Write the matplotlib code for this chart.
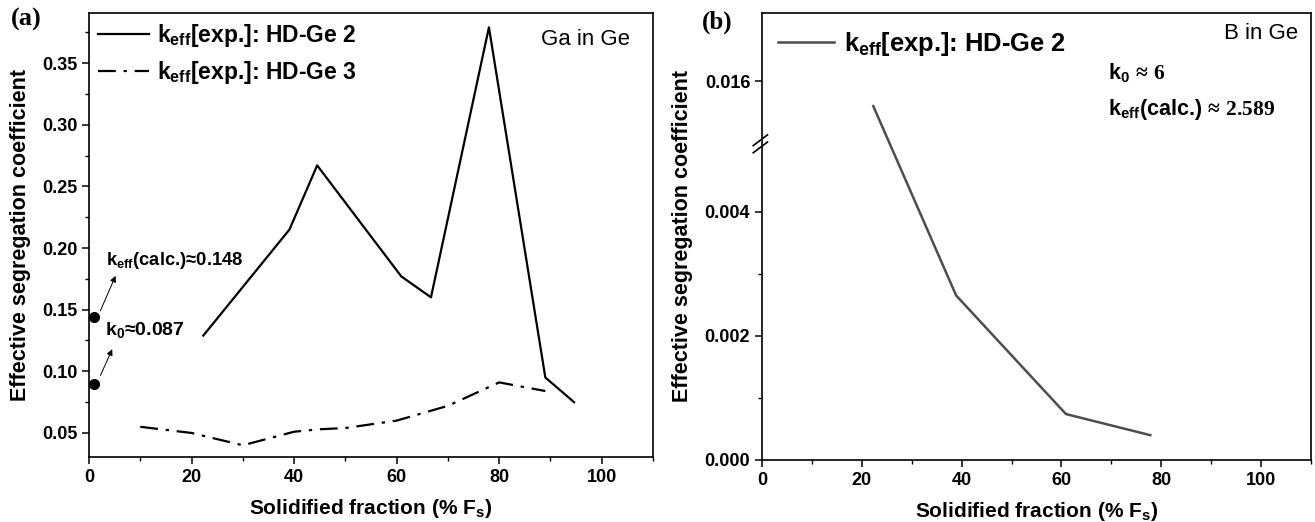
import numpy as np
import matplotlib
matplotlib.use("Agg")
import matplotlib.pyplot as plt
from matplotlib.ticker import MultipleLocator, FixedLocator, FormatStrFormatter

plt.rcParams['font.family'] = ['Liberation Sans', 'DejaVu Sans']
plt.rcParams['font.weight'] = 'bold'
plt.rcParams['mathtext.fontset'] = 'custom'
plt.rcParams['mathtext.rm'] = 'Liberation Sans:bold'
plt.rcParams['mathtext.it'] = 'Liberation Sans:bold'
plt.rcParams['mathtext.bf'] = 'Liberation Sans:bold'
plt.rcParams['mathtext.sf'] = 'Liberation Serif'

# --- data (a): Ga in Ge ---
fs_ge2 = [22.3, 39.1, 44.5, 60.9, 66.7, 78.0, 89.0, 94.6]
k_ge2 = [0.129, 0.215, 0.267, 0.177, 0.160, 0.379, 0.095, 0.075]
fs_ge3 = [10, 20, 30, 40, 45, 50, 60, 70, 80, 89]
k_ge3 = [0.055, 0.050, 0.040, 0.051, 0.053, 0.054, 0.060, 0.072, 0.091, 0.084]
k_calc_a = 0.144
k0_a = 0.090

# --- data (b): B in Ge ---
fs_b = [22.3, 38.9, 60.9, 77.8]
k_b = [0.0156, 0.00265, 0.00074, 0.0004]

# axis break for (b)
brk_lo, brk_hi = 0.0051, 0.0150
shift = brk_hi - brk_lo


def fwd(y):
    y = np.asarray(y, dtype=float)
    return np.where(y <= brk_lo, y, np.where(y >= brk_hi, y - shift, brk_lo))


def inv(t):
    t = np.asarray(t, dtype=float)
    return np.where(t <= brk_lo, t, t + shift)


fig = plt.figure(figsize=(13.15, 5.22), dpi=100)
ax1 = fig.add_axes([89 / 1315, 65 / 522, 564 / 1315, 444 / 522])
ax2 = fig.add_axes([762 / 1315, 62 / 522, 549 / 1315, 447 / 522])

for ax in (ax1, ax2):
    for s in ax.spines.values():
        s.set_linewidth(1.2)
    ax.tick_params(which='major', direction='out', length=5, width=1.1,
                   labelsize=13, top=False, right=False)
    ax.tick_params(which='minor', direction='out', length=3, width=1.0,
                   top=False, right=False)
    ax.set_xlim(0, 110)
    ax.xaxis.set_major_locator(FixedLocator([0, 20, 40, 60, 80, 100]))
    ax.xaxis.set_minor_locator(MultipleLocator(10))
    ax.set_xlabel('Solidified fraction (% F$_{\\mathrm{s}}$)', fontsize=15, fontweight='bold', labelpad=8)
    ax.set_ylabel('Effective segregation coefficient', fontsize=15.5, fontweight='bold', labelpad=8)

# ---- panel (a) ----
ax1.plot(fs_ge2, k_ge2, color='black', lw=1.6, label='k$_{\\mathrm{eff}}$[exp.]: HD-Ge 2')
ax1.plot(fs_ge3, k_ge3, color='black', lw=1.6, linestyle=(0, (8, 3.5, 1.5, 3.5)),
         label='k$_{\\mathrm{eff}}$[exp.]: HD-Ge 3')
ax1.set_ylim(0.0305, 0.3906)
ax1.yaxis.set_major_locator(MultipleLocator(0.05))
ax1.yaxis.set_minor_locator(MultipleLocator(0.025))
ax1.yaxis.set_major_formatter(FormatStrFormatter('%.2f'))
ax1.legend(loc='upper left', frameon=False, fontsize=16.5, handlelength=2.2,
           handletextpad=0.35, labelspacing=0.45, borderaxespad=0.0,
           bbox_to_anchor=(0.0, 1.0))
ax1.text(0.960, 0.94, 'Ga in Ge', transform=ax1.transAxes, ha='right', va='center',
         fontsize=16, fontweight='normal', family=['Liberation Sans'])

ax1.plot([1.0, 1.0], [k_calc_a, k0_a], 'o', color='black', ms=7, clip_on=False)
ax1.annotate('', xy=(5.4, 0.1795), xytext=(2.0, 0.1470),
             arrowprops=dict(arrowstyle='-|>', color='black', lw=0.7, mutation_scale=9))
ax1.annotate('', xy=(4.75, 0.120), xytext=(2.0, 0.0945),
             arrowprops=dict(arrowstyle='-|>', color='black', lw=0.7, mutation_scale=9))
ax1.text(3.3, 0.190, 'k$_{\\mathrm{eff}}$(calc.)≈0.148', fontsize=13.2, fontweight='bold',
         va='center', ha='left')
ax1.text(3.2, 0.1335, 'k$_{\\mathrm{0}}$≈0.087', fontsize=14, fontweight='bold',
         va='center', ha='left')

# ---- panel (b) ----
ax2.set_yscale('function', functions=(fwd, inv))
ax2.plot(fs_b, k_b, color='#4d4d4d', lw=1.8, label='k$_{\\mathrm{eff}}$[exp.]: HD-Ge 2')
ax2.set_ylim(0.0, 0.0171)
ax2.yaxis.set_major_locator(FixedLocator([0.0, 0.002, 0.004, 0.016]))
ax2.yaxis.set_minor_locator(FixedLocator([0.001, 0.003]))
ax2.yaxis.set_major_formatter(FormatStrFormatter('%.3f'))
ax2.legend(loc='upper left', frameon=False, fontsize=18.4, handlelength=2.2,
           handletextpad=0.4, borderaxespad=0.0, bbox_to_anchor=(0.01, 0.985))
ax2.text(0.976, 0.955, 'B in Ge', transform=ax2.transAxes, ha='right', va='center',
         fontsize=16, fontweight='normal', family=['Liberation Sans'])
ax2.text(0.630, 0.866, 'k$_{\\mathrm{0}}$ $\\mathsf{≈\\ 6}$', transform=ax2.transAxes,
         ha='left', va='center', fontsize=15.5, fontweight='bold')
ax2.text(0.630, 0.785, 'k$_{\\mathrm{eff}}$(calc.) $\\mathsf{≈\\ 2.589}$', transform=ax2.transAxes,
         ha='left', va='center', fontsize=15.5, fontweight='bold')

# break marks on left spine
yb = (fwd(brk_lo) - 0) / (fwd(0.0171) - 0)
for dy in (-0.008, 0.008):
    ax2.plot([-0.016, 0.010], [yb + dy - 0.013, yb + dy + 0.011], transform=ax2.transAxes,
             color='black', lw=1.2, clip_on=False)

fig.text(11 / 1315, 1 - 19 / 522, '(a)', fontsize=19, fontweight='bold',
         family=['Liberation Serif'], va='center', ha='left')
fig.text(702 / 1315, 1 - 22 / 522, '(b)', fontsize=18, fontweight='bold',
         family=['Liberation Serif'], va='center', ha='left')

fig.savefig('out.png', dpi=100)
